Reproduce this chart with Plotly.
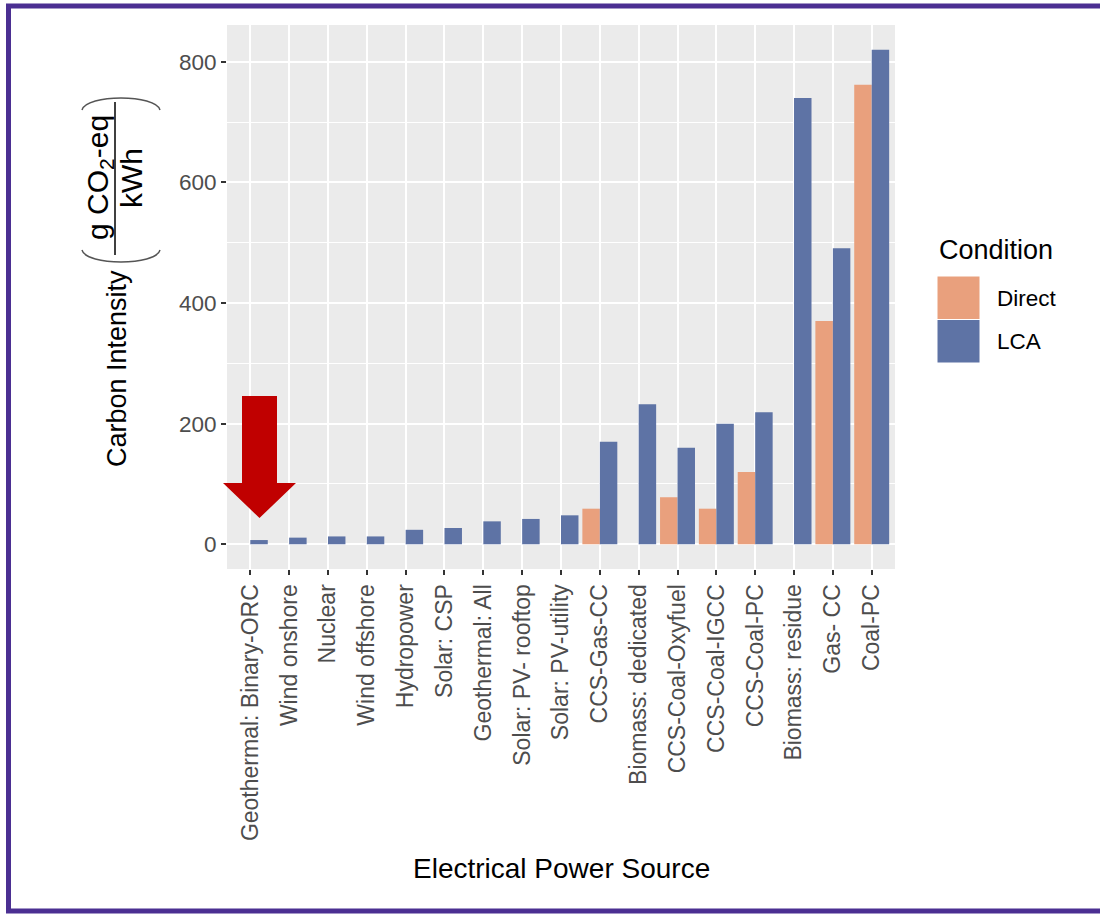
import plotly.graph_objects as go

# Life-cycle vs direct carbon intensity by electricity source (g CO2-eq / kWh)
sources = [
    "Geothermal: Binary-ORC", "Wind onshore", "Nuclear", "Wind offshore",
    "Hydropower", "Solar: CSP", "Geothermal: All", "Solar: PV- rooftop",
    "Solar: PV-utility", "CCS-Gas-CC", "Biomass: dedicated", "CCS-Coal-Oxyfuel",
    "CCS-Coal-IGCC", "CCS-Coal-PC", "Biomass: residue", "Gas- CC", "Coal-PC",
]
direct = [None, None, None, None, None, None, None, None, None,
          59, None, 78, 59, 120, None, 370, 762]
lca = [7, 11, 13, 13, 24, 27, 38, 42, 48, 170, 232, 160, 200, 219, 740, 491, 820]
y_ticks = [0, 200, 400, 600, 800]

COL_DIRECT = "#E9A07D"
COL_LCA = "#5E73A5"
FONT = "Liberation Sans, Arial, sans-serif"

W, H = 1109, 914
L, R, T, B = 227, 895, 25, 569   # plotting panel in pixels


def px(x):
    return (x - L) / (R - L)


def py(y):
    return (B - y) / (B - T)


def fmt(p):
    return f"{px(p[0]):.5f},{py(p[1]):.5f}"


def poly(points):
    return "M " + " L ".join(fmt(p) for p in points) + " Z"


def curve(p0, c1, c2, p1):
    return f"M {fmt(p0)} C {fmt(c1)} {fmt(c2)} {fmt(p1)}"


def seg(a, b, color, width):
    return dict(type="line", xref="paper", yref="paper",
                x0=px(a[0]), y0=py(a[1]), x1=px(b[0]), y1=py(b[1]),
                line=dict(color=color, width=width), layer="above")


fig = go.Figure()
fig.add_trace(go.Bar(name="Direct", x=sources, y=direct,
                     marker=dict(color=COL_DIRECT, line=dict(width=0))))
fig.add_trace(go.Bar(name="LCA", x=sources, y=lca,
                     marker=dict(color=COL_LCA, line=dict(width=0))))

shapes = []
annotations = []

# outer frame: top, left and bottom edges
FRAME = "#4B2F92"
shapes.append(seg((6, 6), (1100, 6), FRAME, 5))
shapes.append(seg((8.5, 6), (8.5, 911), FRAME, 5))
shapes.append(seg((6, 911), (1100, 911), FRAME, 5))

# red pointer arrow
shapes.append(dict(type="path", xref="paper", yref="paper",
                   path=poly([(242, 396), (277, 396), (277, 483), (296, 483),
                              (259.5, 518), (223, 483), (242, 483)]),
                   fillcolor="#C00000", line=dict(width=0), layer="above"))

# legend
annotations.append(dict(text="Condition", xref="paper", yref="paper",
                        x=px(937), y=py(250), xanchor="left", yanchor="middle",
                        showarrow=False, font=dict(family=FONT, size=27, color="black")))
for i, (lab, col) in enumerate([("Direct", COL_DIRECT), ("LCA", COL_LCA)]):
    top = 276 + 43.5 * i
    shapes.append(dict(type="rect", xref="paper", yref="paper",
                       x0=px(937), x1=px(980), y0=py(top), y1=py(top + 43.5),
                       fillcolor=col, line=dict(color="white", width=1)))
    annotations.append(dict(text=lab, xref="paper", yref="paper",
                            x=px(995), y=py(top + 22), xanchor="left", yanchor="middle",
                            showarrow=False,
                            font=dict(family=FONT, size=22.5, color="black")))

# axis titles
annotations.append(dict(text="Electrical Power Source", xref="paper", yref="paper",
                        x=px(561), y=py(868), xanchor="center", yanchor="middle",
                        showarrow=False, font=dict(family=FONT, size=28, color="black")))
annotations.append(dict(text="Carbon Intensity", xref="paper", yref="paper",
                        x=px(117), y=py(369), xanchor="center", yanchor="middle",
                        textangle=-90, showarrow=False,
                        font=dict(family=FONT, size=27, color="black")))
annotations.append(dict(text="g CO<sub>2</sub>-eq", xref="paper", yref="paper",
                        x=px(99), y=py(178), xanchor="center", yanchor="middle",
                        textangle=-90, showarrow=False,
                        font=dict(family=FONT, size=30, color="black")))
annotations.append(dict(text="kWh", xref="paper", yref="paper",
                        x=px(131), y=py(178), xanchor="center", yanchor="middle",
                        textangle=-90, showarrow=False,
                        font=dict(family=FONT, size=30, color="black")))
shapes.append(seg((115, 102), (115, 255), "black", 1.5))
# thin stretched brackets around the unit fraction
shapes.append(dict(type="path", xref="paper", yref="paper",
                   path=curve((82, 110), (86, 94), (156, 94), (160, 110)),
                   line=dict(color="#555555", width=1.5)))
shapes.append(dict(type="path", xref="paper", yref="paper",
                   path=curve((82, 250), (86, 266), (156, 266), (160, 250)),
                   line=dict(color="#555555", width=1.5)))

fig.update_layout(
    width=W, height=H,
    margin=dict(l=L, r=W - R, t=T, b=H - B, pad=0),
    paper_bgcolor="white", plot_bgcolor="#EBEBEB",
    barmode="group", bargap=0.1, bargroupgap=0,
    showlegend=False,
    font=dict(family=FONT),
    shapes=shapes, annotations=annotations,
    xaxis=dict(
        type="category", range=[-0.6, len(sources) - 0.4],
        showgrid=True, gridcolor="white", gridwidth=2,
        ticks="outside", ticklen=5, tickwidth=1.5, tickcolor="#333333",
        tickangle=-90, tickfont=dict(family=FONT, size=23, color="#4D4D4D"),
        showline=False, zeroline=False, fixedrange=True,
    ),
    yaxis=dict(
        range=[-41, 861], tickvals=y_ticks,
        showgrid=True, gridcolor="white", gridwidth=2,
        minor=dict(tickvals=[100, 300, 500, 700], showgrid=True,
                   gridcolor="white", gridwidth=1, ticks=""),
        ticks="outside", ticklen=5, tickwidth=1.5, tickcolor="#333333",
        tickfont=dict(family=FONT, size=22.5, color="#4D4D4D"),
        showline=False, zeroline=False, fixedrange=True,
    ),
)

fig.write_html("out.html")
